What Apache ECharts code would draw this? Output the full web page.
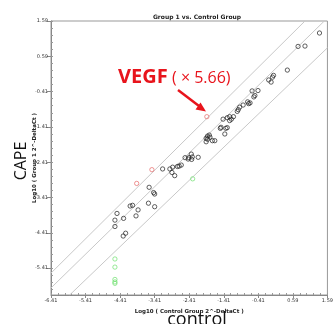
<!DOCTYPE html>
<html><head><meta charset="utf-8">
<script src="https://cdn.jsdelivr.net/npm/echarts@6/dist/echarts.min.js"></script>
<style>html,body{margin:0;padding:0;background:#fff;overflow:hidden}#c{width:336px;height:324px}</style>
</head><body><div id="c"></div>
<script>
// ---- data (log10 2^-DeltaCt) ----
const blackX = [1.36,0.74,0.94,0.43,0.03,0.00,-0.11,-0.04,-0.59,-0.42,-0.51,-0.54,-0.72,-0.65,-0.69,-0.85,-0.95,-0.99,-1.02,-1.13,
  -1.43,-1.31,-1.24,-1.19,-1.24,-1.49,-1.51,-1.35,-1.31,-1.38,-1.88,-1.83,-1.92,-1.88,-1.81,-1.74,-1.67,-1.92,
  -2.35,-2.32,-2.42,-2.53,-2.15,-2.34,-2.44,-2.64,-2.70,-2.75,-2.89,-2.97,-2.91,-2.83,-3.18,
  -3.57,-3.44,-3.41,-3.59,-3.41,-4.12,-4.05,-3.89,-4.50,-3.95,-4.56,-4.31,-4.56,-4.25,-4.32];
const blackY = [1.25,0.87,0.88,0.20,0.05,0.00,-0.08,-0.14,-0.39,-0.38,-0.52,-0.56,-0.70,-0.73,-0.75,-0.79,-0.85,-0.92,-0.97,-1.12,
  -1.19,-1.15,-1.12,-1.19,-1.23,-1.42,-1.45,-1.45,-1.43,-1.61,-1.67,-1.64,-1.73,-1.76,-1.70,-1.80,-1.80,-1.83,
  -2.18,-2.26,-2.28,-2.28,-2.27,-2.33,-2.32,-2.49,-2.52,-2.53,-2.55,-2.60,-2.70,-2.79,-2.60,
  -3.12,-3.27,-3.31,-3.57,-3.67,-3.65,-3.63,-3.76,-3.86,-3.93,-4.05,-4.00,-4.23,-4.42,-4.50];
const redX = [-1.90,-3.49,-3.93];
const redY = [-1.12,-2.62,-3.01];
const greenX = [-2.31,-4.56,-4.56,-4.56,-4.56,-4.56];
const greenY = [-2.88,-5.15,-5.38,-5.73,-5.80,-5.84];
// boundary / reference lines (endpoints)
const lineUpper = [[-6.41,-5.55],[0.94,1.59]];
const lineMiddle = [[-6.41,-5.97],[1.50,1.59]];
const lineLower = [[-5.87,-6.17],[1.59,0.83]];
// axes
const xTicks = [-6.41,-5.41,-4.41,-3.41,-2.41,-1.41,-0.41,0.59,1.59];
const yTicks = [1.59,0.59,-0.41,-1.41,-2.41,-3.41,-4.41,-5.41];
const xRange = [-6.41, 1.59];
const yRange = [-6.17, 1.59];
const titleText = 'Group 1 vs. Control Group';
const xName = 'Log10 ( Control Group 2^-DeltaCt )';
const yName = 'Log10 ( Group 1 2^-DeltaCt )';

const zip = (a,b) => a.map((v,i)=>[v,b[i]]);
function minor(lo, hi, start){ const r=[]; for(let v=start; v<=hi+1e-9; v+=0.2){ if(v>=lo-1e-9) r.push(+v.toFixed(2)); } return r; }
const xMinor = minor(xRange[0], xRange[1], -6.41);
const yMinor = minor(yRange[0], yRange[1], -6.01);

const chart = echarts.init(document.getElementById('c'), null, {renderer:'canvas'});
const tickLbl = {fontSize:5, color:'#333', fontFamily:'DejaVu Sans', margin:3, formatter: v => (+v).toFixed(2)};
const nameStyle = {fontSize:5.5, fontWeight:'bold', color:'#222', fontFamily:'DejaVu Sans'};
const lineStyle = {color:'#c8c8c8', width:1};
const mk = (name, data, color) => ({type:'scatter', name, data, symbol:'circle', symbolSize:4.3,
  itemStyle:{color:'rgba(0,0,0,0)', borderColor:color, borderWidth:0.9}, silent:true, z:5});
const ln = (data) => ({type:'line', data, symbol:'none', lineStyle, silent:true, z:2, animation:false});

chart.setOption({
  animation:false,
  backgroundColor:'#fff',
  title:{text:titleText, left:192, top:9, textAlign:'center',
    textStyle:{fontSize:6, fontWeight:'bold', color:'#222', fontFamily:'DejaVu Sans'}},
  grid:{left:51, right:3, top:21, bottom:29, show:true, borderColor:'#999', borderWidth:1, backgroundColor:'#fff'},
  xAxis:[{type:'value', min:xRange[0], max:xRange[1], name:xName, nameLocation:'middle', nameGap:14, nameMoveOverlap:false, nameTextStyle:nameStyle,
    axisLine:{show:true, onZero:false, lineStyle:{color:'#888'}}, splitLine:{show:false},
    axisTick:{show:true, customValues:xTicks, length:3, lineStyle:{color:'#888'}},
    axisLabel:Object.assign({customValues:xTicks}, tickLbl)},
   {type:'value', min:xRange[0], max:xRange[1], position:'bottom', axisLine:{show:false, onZero:false}, splitLine:{show:false},
    axisTick:{show:true, inside:true, customValues:xMinor, length:2, lineStyle:{color:'#999'}}, axisLabel:{show:false}}],
  yAxis:[{type:'value', min:yRange[0], max:yRange[1], name:yName, nameLocation:'middle', nameGap:13, nameMoveOverlap:false, nameTextStyle:nameStyle,
    axisLine:{show:true, onZero:false, lineStyle:{color:'#888'}}, splitLine:{show:false},
    axisTick:{show:true, customValues:yTicks, length:4, lineStyle:{color:'#888'}},
    axisLabel:Object.assign({customValues:yTicks}, tickLbl)},
   {type:'value', min:yRange[0], max:yRange[1], position:'left', axisLine:{show:false, onZero:false}, splitLine:{show:false},
    axisTick:{show:true, inside:true, customValues:yMinor, length:2, lineStyle:{color:'#999'}}, axisLabel:{show:false}}],
  series:[
    ln(lineUpper), ln(lineMiddle), ln(lineLower),
    mk('black', zip(blackX, blackY), '#222'),
    mk('red', zip(redX, redY), '#e86a6a'),
    mk('green', zip(greenX, greenY), '#70e070')
  ],
  graphic:[
    {type:'text', style:{text:'CAPE', x:0, y:0, align:'center', verticalAlign:'middle', font:'16px "Open Sans"', fill:'#111'},
      x:21, y:161, rotation:Math.PI/2},
    {type:'text', style:{text:'control', x:197, y:320, align:'center', verticalAlign:'middle', font:'18px "Open Sans"', fill:'#111'}},
    {type:'text', style:{text:'VEGF', x:118, y:77, verticalAlign:'middle', font:'bold 20px "Open Sans"', fill:'#e8141c'}},
    {type:'text', style:{text:'( × 5.66)', x:172, y:78, verticalAlign:'middle', font:'16px "Open Sans"', fill:'#e8141c'}},
    {type:'line', shape:{x1:178, y1:90, x2:199, y2:106}, style:{stroke:'#e8141c', lineWidth:2.5}},
    {type:'polygon', shape:{points:[[206,111.5],[195.5,109.5],[200.5,102.5]]}, style:{fill:'#e8141c'}}
  ]
});
</script>
</body></html>
